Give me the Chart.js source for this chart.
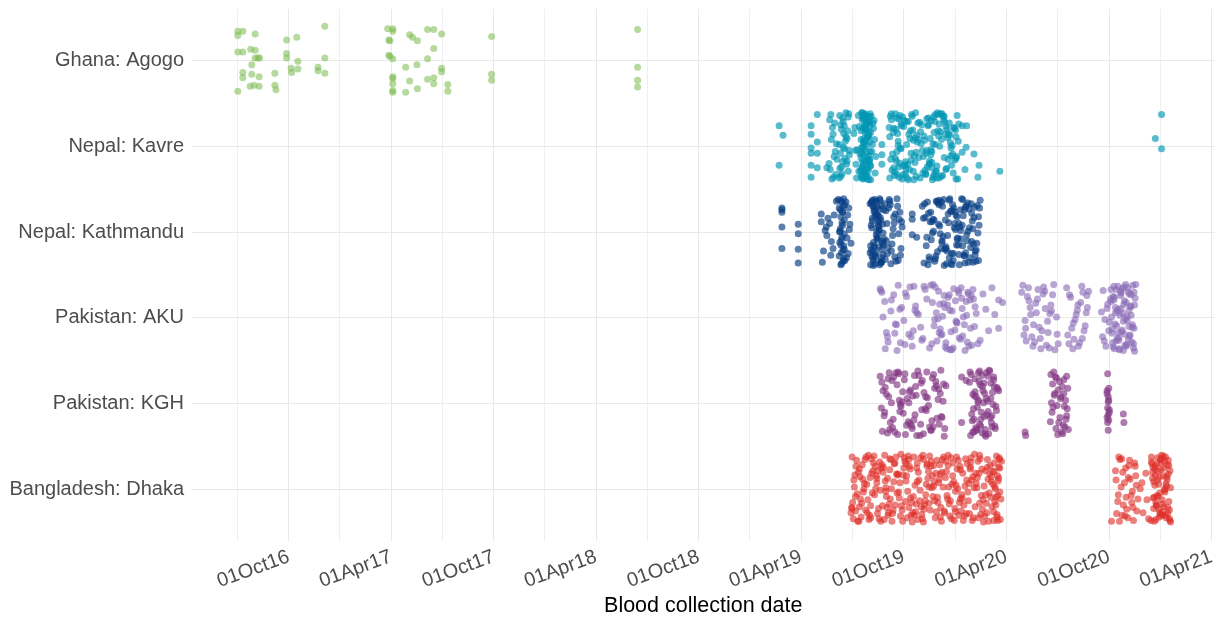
<!DOCTYPE html>
<html>
<head>
<meta charset="utf-8">
<script src="https://cdn.jsdelivr.net/npm/chart.js@4.4.1/dist/chart.umd.min.js"></script>
<style>
  html, body { margin: 0; padding: 0; background: #ffffff; }
  #wrap { width: 1218px; height: 618px; }
</style>
</head>
<body>
<div id="wrap"><canvas id="c" width="1218" height="618"></canvas></div>
<script>
// Sites, top to bottom
const siteNames = ['Ghana: Agogo', 'Nepal: Kavre', 'Nepal: Kathmandu', 'Pakistan: AKU', 'Pakistan: KGH', 'Bangladesh: Dhaka'];

// Date axis: days counted from 1 Oct 2016
const tickDays = [0, 182, 365, 547, 730, 912, 1095, 1278, 1461, 1643];
const tickLabels = ['01Oct16', '01Apr17', '01Oct17', '01Apr18', '01Oct18', '01Apr19', '01Oct19', '01Apr20', '01Oct20', '01Apr21'];

// Blood collection day of each sample and its vertical jitter (hundredths of a row)
const agogoDays = [-91,-91,-82,-60,-91,-82,-68,-60,-60,-55,-52,-66,-82,-82,-66,-53,-91,-69,-62,-53,-25,-25,-23,-4,14,-4,-4,16,4,5,16,52,52,64,64,64,
  176,185,185,178,180,178,180,185,185,185,185,185,185,208,215,220,229,228,215,208,229,247,258,272,258,247,272,272,247,258,258,283,283,361,361,361,621,621,621,621];
const agogoJitter = [-34,-29,-34,-31,-10,-10,-13,-12,-3,-3,-3,5,14,20,16,19,36,30,29,30,15,29,34,-24,-27,-8,-3,1,9,14,10,8,12,-40,-3,15,
  -37,-37,-34,-24,-23,-6,-5,-2,19,21,27,35,37,8,-30,-27,-23,5,24,37,33,-36,-36,-31,-14,-2,9,13,22,20,27,28,36,-28,16,23,-36,8,23,31];

const kavreDays = [873,880,873,930,930,930,930,930,930,941,941,941,941,958,1056,1056,1056,1070,1199,1207,1206,1199,1220,1229,1204,1227,1188,1266,1554,1543,1554,
  963,971,966,974,962,968,975,970,965,973,964,969,972,967,976,981,995,984,990,987,998,983,992,980,996,986,994,989,982,997,985,991,993,988,980,984,996,981,990,987,994,983,998,986,992,
  1008,1031,1024,1019,1035,1027,1012,1021,1033,1029,1040,1022,1026,1017,1030,1036,1023,1044,1028,1020,
  1034,1025,1015,1032,1019,1027,1038,1022,1030,1024,1006,1033,1021,1028,1035,1026,1042,1020,1031,1023,
  1029,1010,1025,1034,1019,1032,1027,1036,1021,1014,1030,1024,1039,1028,1022,1033,1026,1020,1035,1031,
  1023,1045,1029,1019,1027,1034,1016,1025,1032,1021,1037,1030,1024,1028,1011,1033,1022,1026,1035,1020,
  1031,1041,1025,1029,1019,1034,1023,1009,1027,1032,1036,1021,1030,1018,1024,1028,1043,1033,1026,1022,
  1071,1098,1085,1112,1077,1124,1090,1103,1080,1118,1094,1073,1108,1127,1086,1100,1082,1115,1092,1076,
  1121,1105,1088,1130,1079,1111,1096,1083,1117,1070,1102,1091,1126,1087,1109,1075,1099,1120,1084,1113,
  1093,1072,1106,1129,1081,1116,1097,1089,1123,1078,1104,1114,1086,1074,1101,1119,1095,1082,1110,1128,
  1077,1107,1090,1122,1098,1085,1115,1073,1103,1125,1088,1080,1112,1094,1069,1117,1100,1083,1108,1131,
  1133,1160,1147,1178,1139,1189,1154,1168,1142,1183,1151,1136,1172,1191,1157,1145,1165,1181,1149,1138,
  1186,1163,1135,1175,1153,1144,1170,1192,1158,1140,1179,1148,1167,1134,1187,1155,1143,1173,1162,1150,
  1137,1184,1159,1146,1176,1141,1169,1190,1152,1132,1166,1180,1156,1145,1188,1164,1139,1174,1151,1161,
  1182,1136,1171,1149,1158,1185,1143,1177,1153,1193,1167,1141,1162,1179,1147,1134,1170,1156,1188,1145];
const kavreJitter = [-24,-13,22,-24,-14,2,8,22,36,-37,-5,8,25,25,-2,10,21,37,-24,-24,1,7,9,22,27,36,38,29,-37,-9,3,
  -31,12,-8,33,20,-22,-3,36,-37,6,27,-14,-27,38,15,-36,-18,24,3,-29,10,35,-11,-2,29,-33,17,-24,8,-38,32,-6,21,-15,37,-20,-34,26,14,1,-9,-25,5,18,-39,
  -22,35,-9,14,-38,27,4,-31,19,-1,-27,38,-16,9,-35,23,-6,31,-25,2,
  17,-37,29,-12,36,-20,6,-33,25,-4,-15,11,-39,33,-24,18,-30,8,-11,37,
  -28,21,3,-34,-18,28,-7,39,-21,-36,13,32,-2,-26,24,-13,35,-39,6,-30,
  20,12,38,-8,-32,15,-23,30,-17,1,-35,26,-3,-19,37,-27,10,-38,22,34,
  -14,-21,-25,16,27,-5,-36,5,34,-29,-16,24,-10,29,-33,7,-8,39,-22,17,
  -35,18,-6,29,-21,37,3,-29,14,-13,33,-38,8,-25,24,-2,-33,19,38,-16,
  -8,27,-36,12,30,-19,-30,6,35,-11,21,-24,-3,36,-37,9,26,-27,-15,39,
  -34,15,-9,31,-20,-39,22,2,-28,34,-14,11,-32,28,37,-5,-23,17,-35,5,
  25,-18,-26,13,32,-1,-10,-31,39,-17,20,-38,-7,23,-22,7,-29,33,16,-12,
  28,-17,36,-4,-33,12,23,-28,-9,31,-37,5,-20,38,-12,19,-35,-1,33,-24,
  16,-38,8,-15,37,-30,27,-6,-26,21,2,-34,13,32,-19,-39,10,-10,35,-29,
  24,-22,0,39,-27,17,-14,-36,30,-7,-31,22,-18,6,-11,34,-25,15,-2,-38,
  9,-32,26,-16,37,-21,4,-13,29,-26,-35,20,-8,11,-3,33,-23,-37,14,25];

const kathmanduDays = [878,878,878,878,878,907,907,907,907,1110,1110,1110,1118,
  948,950,957,960,963,966,969,952,955,971,958,965,948,975,978,982,985,988,980,983,
  986,989,981,984,987,990,982,985,988,980,983,986,989,981,984,987,992,995,998,1001,
  993,997,999,994,996,982,985,988,990,984,987,983,986,989,981,
  1035,1041,1048,1056,1038,1044,1052,1060,1037,1043,1050,1058,1040,1046,1054,1039,1045,1051,1057,1036,
  1042,1049,1055,1038,1047,1053,1059,1041,1044,1050,1056,1037,1043,1048,1054,1039,1046,1052,1058,1040,
  1045,1051,1036,1042,1049,1055,1038,1044,1050,1057,1063,1067,1071,1075,1079,1065,1069,1073,1077,1081,
  1064,1068,1072,1076,1080,1066,1070,1074,1078,1062,1084,1087,1090,1092,1085,1088,1083,1086,1089,1091,
  1047,1053,1041,1059,1035,1061,1043,1051,1039,1057,1045,1049,1037,1055,1048,1042,1054,1046,1040,1052,
  1128,1135,1142,1150,1158,1165,1172,1180,1187,1194,1201,1208,1215,1222,1229,1131,1139,1146,1154,1161,
  1169,1176,1184,1191,1198,1205,1212,1219,1226,1133,1141,1148,1156,1163,1171,1178,1186,1193,1200,1207,
  1214,1221,1228,1130,1137,1144,1152,1159,1167,1174,1182,1189,1196,1203,1210,1217,1224,1231,1136,1143,
  1151,1157,1164,1170,1177,1183,1190,1197,1204,1211,1218,1225,1132,1140,1147,1153,1160,1168,1175,1181,
  1188,1195,1202,1209,1216,1223,1230,1145,1155,1166,1173,1179,1185,1192,1199,1206,1213,1220,1227,1162,
  1170,1183,1196,1209,1222,1149,1176,1190,1203,1216,1138,1158,1185,1200,1228,1163,1180,1205,1218,1193];
const kathmanduJitter = [-28,-26,-23,-6,19,-9,2,20,36,-21,-15,3,6,
  -21,35,-6,-16,-10,11,19,22,-2,-20,4,27,-12,-36,-38,-37,-35,31,-28,-18,
  -8,2,12,24,34,-32,-4,6,16,28,38,-24,-14,-1,9,21,-35,-20,-3,13,
  30,-28,-9,7,25,-26,-11,-39,33,37,-30,15,-23,20,0,
  -33,12,-20,30,-5,37,-27,8,21,-38,-12,26,-30,3,34,-16,-36,17,-9,38,
  -24,6,-31,28,-1,-37,15,33,-19,-8,20,-34,-26,9,36,-13,24,-39,1,31,
  -22,-2,16,-29,-14,35,-35,27,-7,13,-25,18,-32,4,29,-10,-38,22,-18,34,
  10,-28,37,-4,-21,25,-36,14,-11,32,-30,-15,19,-6,33,-23,-39,2,27,-12,
  7,-17,39,-26,24,-33,18,-3,-37,11,29,-20,-8,35,-29,16,-14,-35,23,38,
  -30,16,-12,34,-37,5,22,-25,-3,38,-19,10,-33,27,-8,36,-22,1,-36,19,
  -14,30,-28,7,-39,24,-5,14,-31,-17,32,-1,-34,12,37,-24,-10,26,-38,3,
  18,-29,33,-16,-35,9,28,-7,39,-21,-32,15,-2,-26,35,-13,21,-37,6,-23,
  31,-9,-30,17,-39,25,-18,8,36,-27,-4,13,-33,29,-15,-36,2,20,-11,38,
  -20,-6,27,-34,11,34,-28,-12,23,-38,4,37,-24,15,-8,-31,30,-17,1,-35,
  19,33,-26,-1,22,-14,-37,8,28,-22,38,-32,-5,16,-18,10,25,-29,35,-10];

const akuDays = [1053,1061,1066,1077,1082,1091,1097,1106,1112,1121,1127,1136,1056,1062,1072,1079,1085,1095,1100,1110,
  1116,1125,1133,1058,1067,1073,1083,1088,1098,1104,1113,1118,1129,1141,1146,1150,1157,1160,1167,1170,
  1177,1180,1187,1190,1197,1200,1207,1210,1216,1222,1143,1149,1154,1159,1164,1169,1174,1179,1184,1189,
  1194,1199,1204,1209,1214,1219,1224,1145,1151,1156,1161,1166,1172,1176,1181,1186,1192,1196,1201,1206,
  1211,1215,1221,1147,1158,1168,1178,1188,1198,1208,1218,1153,1163,1173,1183,1193,1203,1213,1231,1241,
  1252,1264,1264,1236,1227,1246,1257,1271,1054,1080,1108,1131,1089,1115,1064,
  1305,1312,1318,1325,1331,1338,1344,1351,1357,1364,1309,1315,1321,1328,1334,1341,1347,1354,1360,1367,
  1307,1313,1320,1326,1333,1339,1346,1352,1358,1370,1311,1317,1323,1330,1336,1343,1349,1355,1362,1368,
  1385,1390,1394,1398,1402,1406,1410,1414,1418,1422,1387,1392,1396,1400,1404,1408,1412,1416,1420,1424,1389,1397,1405,1413,1421,
  1447,1449,1452,1455,1458,1461,1464,1466,1468,1470,1472,1474,1476,1478,1480,1482,1484,1486,1488,1490,
  1492,1494,1496,1498,1500,1502,1504,1506,1508,1465,1467,1469,1471,1473,1475,1477,1479,1481,1483,1485,
  1487,1489,1491,1493,1495,1497,1499,1501,1503,1505,1507,1463,1468,1472,1477,1481,1486,1490,1495,1499,
  1504,1466,1470,1475,1479,1484,1488,1493,1497,1502,1506,1464,1473,1482,1491,1500,1469,1478,1487,1496,1505,1450,1457,1460,1453];
const akuJitter = [-34,-19,22,-27,8,-12,31,-36,15,-4,26,-22,-30,36,-8,18,-38,3,-25,33,
  -14,11,-33,-1,28,-21,38,-10,-29,19,-37,-6,24,35,-18,2,-31,13,-26,29,
  -9,37,-20,6,-35,21,-3,-28,32,-13,-38,9,27,-16,-2,34,-24,16,-34,5,
  23,-11,38,-30,12,-22,-5,30,-36,1,20,-17,36,-27,-8,14,-32,25,-1,-19,
  33,-26,10,-39,17,-12,37,4,-23,28,-33,-6,19,-15,35,-29,8,-21,26,-10,
  -35,-21,12,-28,30,15,-4,-18,-32,7,22,-37,29,-9,17,
  -30,12,-20,33,-6,24,-36,4,-15,37,20,-25,-4,28,-33,15,-11,35,-27,-1,
  -38,27,-12,8,-22,36,-31,17,-8,30,3,-35,22,-17,11,-28,32,-5,-39,19,
  -35,-27,12,25,-4,33,-18,-30,9,-12,20,-24,36,2,-9,29,-37,15,-6,-31,30,6,-15,24,-26,
  -7,22,27,33,-16,5,-33,18,-25,36,-12,9,-37,26,-3,-29,14,38,-20,1,
  31,-35,-9,20,-27,11,35,-15,-39,-1,29,-21,7,-33,24,-10,37,-26,16,-5,
  -36,32,-18,3,-30,21,-13,28,-38,12,-23,-22,34,-6,17,-31,4,-39,25,-14,
  30,13,-24,-8,36,-34,19,-2,-28,8,39,-19,27,-11,33,-3,-37,23,-16,10,-30,-32,-11,15,2];

const kghDays = [1053,1060,1068,1075,1083,1090,1098,1105,1113,1120,1128,1135,1143,1150,1158,1165,1056,1064,1071,1079,
  1086,1094,1101,1109,1116,1124,1131,1139,1146,1154,1161,1168,1058,1066,1073,1081,1088,1096,1103,1111,
  1118,1126,1133,1141,1148,1156,1163,1170,1055,1062,1070,1077,1085,1092,1100,1107,1115,1122,1130,1137,
  1145,1152,1160,1167,1057,1067,1076,1087,1097,1106,1117,1127,1136,1147,1157,1166,1061,1074,1084,1093,
  1104,1114,1125,1134,1144,1153,1162,1069,1089,1110,
  1198,1198,1212,1216,1220,1224,1228,1232,1236,1240,1244,1248,1252,1256,1260,1214,1218,1222,1226,1230,
  1234,1238,1242,1246,1250,1254,1258,1262,1213,1217,1221,1225,1229,1233,1237,1241,1245,1249,1253,1257,
  1261,1215,1219,1223,1227,1231,1235,1239,1243,1247,1251,1255,1259,1264,1206,1220,1230,1240,1250,1225,
  1235,1245,1255,1222,1232,1242,1252,1218,1228,1238,
  1311,1312,
  1357,1362,1367,1372,1377,1380,1383,1386,1360,1365,1370,1375,1381,1385,1358,1363,1368,1374,1379,1384,1388,
  1359,1366,1371,1376,1382,1364,1369,1378,1387,1361,1373,1380,1356,1385,
  1458,1457,1459,1460,1458,1461,1459,1457,1460,1458,1459,1461,1457,1460,1459,1486,1487];
const kghJitter = [-32,14,-8,28,-22,3,36,-14,19,-38,-27,8,31,-18,24,-3,-25,-11,22,33,
  -35,11,-6,26,-20,37,-13,2,-30,17,-39,29,-15,34,-1,-36,9,-28,21,-9,
  37,-24,6,27,-34,-5,16,-21,5,-19,30,-31,-37,-2,25,-16,13,-33,35,-7,
  20,-26,-12,38,32,-29,18,-4,-35,23,-10,7,-37,27,-17,-23,10,-27,36,-14,
  -1,-33,24,-8,31,-21,15,-36,1,29,
  -31,22,-25,12,33,-8,-36,18,-15,30,-3,-38,27,-20,8,37,-11,-29,4,24,
  -33,15,-6,35,-24,1,29,-17,-37,20,-9,31,-26,10,-1,38,-32,16,-13,26,
  -19,-34,6,28,-2,-22,34,-12,13,-39,22,-28,3,-15,-27,18,-38,36,-6,30,
  -20,9,-31,-14,26,-36,14,33,-4,-24,
  33,37,
  -34,-37,-30,-26,-20,-12,-4,6,-23,-31,-16,-8,3,14,-1,-10,2,-6,25,18,30,
  10,29,22,33,27,-12,36,35,-18,4,16,-28,21,-32,
  -35,-12,-8,-4,5,7,13,16,19,22,-2,10,-15,-18,31,12,22];

const dhakaDays = [1003,1031,1058,1089,1115,1142,1170,1198,1226,1255,1016,1044,1073,1101,1129,1156,1184,1212,1240,1266,
  1009,1037,1064,1094,1120,1148,1176,1204,1232,1260,1022,1050,1079,1107,1135,1162,1190,1218,1247,1269,
  1006,1034,1061,1091,1118,1145,1173,1201,1229,1257,1019,1047,1076,1104,1132,1159,1187,1215,1243,1262,
  1012,1040,1068,1097,1123,1151,1179,1207,1235,1264,1026,1053,1082,1110,1138,1165,1193,1221,1250,1002,
  1005,1029,1056,1086,1113,1140,1168,1196,1224,1252,1014,1042,1071,1099,1127,1154,1182,1210,1238,1267,
  1010,1036,1066,1093,1121,1149,1175,1203,1231,1259,1024,1048,1078,1106,1134,1161,1189,1217,1245,1254,
  1004,1032,1060,1088,1116,1144,1172,1200,1228,1256,1018,1046,1074,1102,1130,1158,1186,1214,1242,1265,
  1008,1039,1063,1092,1119,1147,1174,1202,1230,1261,1021,1051,1077,1105,1133,1160,1188,1216,1244,1268,
  1013,1035,1069,1096,1124,1152,1180,1208,1236,1263,1027,1055,1083,1111,1139,1166,1194,1222,1249,1258,
  1007,1030,1059,1087,1114,1141,1169,1197,1225,1253,1015,1043,1072,1100,1128,1155,1183,1211,1239,1266,
  1011,1038,1065,1095,1122,1150,1177,1205,1233,1262,1025,1052,1080,1108,1136,1163,1191,1219,1248,1255,
  1003,1033,1062,1090,1117,1146,1171,1199,1227,1257,1020,1049,1075,1103,1131,1157,1185,1213,1241,1264,
  1016,1041,1067,1098,1125,1153,1181,1209,1237,1251,1028,1057,1084,1112,1140,1167,1195,1223,1246,1261,
  1009,1045,1070,1085,1126,1143,1178,1192,1234,1259,1001,1054,1081,1109,1137,1164,1196,1220,1251,1256,
  1017,1036,1063,1099,1119,1148,1174,1206,1230,1265,1023,1047,1070,1104,1130,1160,1187,1214,1244,1262,
  1472,1476,1480,1484,1488,1492,1496,1500,1504,1508,1512,1474,1478,1482,1486,1490,1494,1498,1502,1506,
  1510,1473,1479,1485,1491,1497,1503,1509,1477,1483,1489,1495,1501,1507,1516,1521,1526,1531,1519,1528,
  1536,1538,1540,1542,1544,1546,1548,1550,1552,1554,1556,1558,1560,1562,1564,1566,1568,1570,1537,1539,
  1541,1543,1545,1547,1549,1551,1553,1555,1557,1559,1561,1563,1565,1567,1569,1536,1540,1544,1548,1552,
  1556,1560,1564,1568,1538,1542,1546,1550,1554,1558,1562,1566,1570,1543,1551,1559,1567,1547,1555,1563,
  1539,1549,1561,1545,1557,1565,1553,1541,1569,1535,
  1465];
const dhakaJitter = [-38,12,-20,31,-5,24,-33,6,-14,36,20,-27,-1,33,-40,15,-9,28,-22,3,
  25,-36,8,-17,35,-28,17,-4,29,-39,-12,22,-31,10,-6,37,-24,-15,4,-33,
  -11,30,-40,19,-25,-2,11,36,-19,14,32,-8,24,-35,18,-29,2,-37,27,-16,
  5,-22,27,-33,13,33,-37,-11,23,-26,-35,1,-18,38,-13,-3,30,-41,9,21,
  34,-6,-29,3,-38,16,27,-23,-7,20,-20,-39,11,-10,29,-34,-16,13,-4,35,
  -27,19,-13,37,-20,-9,-3,31,-36,9,-1,28,-30,-24,6,21,-38,36,-12,-6,
  15,-40,35,-8,26,-33,7,-19,33,-31,11,-16,37,2,-35,-12,22,-26,16,-37,
  -17,4,-2,24,-31,8,-28,18,-40,29,-29,34,-9,-27,13,32,-5,-11,-35,11,
  37,-14,17,-37,1,-19,34,-30,12,-10,24,-25,4,27,-21,-38,15,20,-28,-1,
  -3,27,-26,10,30,-39,-14,25,-2,-21,37,6,-35,-16,34,9,-31,-7,31,-25,
  -34,-19,21,-25,-11,13,31,-36,7,36,-7,-32,18,30,-28,-20,-1,33,-18,26,
  22,35,-10,-41,17,-16,-21,10,-33,-3,16,-22,28,-39,23,-8,36,-24,6,-13,
  -24,-31,30,14,-37,26,-6,3,38,-15,-38,19,-17,8,-3,25,-27,-19,37,32,
  8,-1,-36,-18,20,-27,13,-34,-24,18,27,37,-38,15,-30,-35,11,-2,-9,-21,
  -15,33,2,-30,-9,-4,-40,28,16,-35,3,-13,-23,21,38,-18,26,-32,-26,7,
  -22,14,-35,30,-8,23,-28,7,36,-16,11,28,-38,-3,18,-25,33,-12,2,-31,
  25,-11,37,-20,9,-34,21,-5,6,-36,31,-14,15,-27,-1,27,-19,34,-8,12,
  -38,-20,22,-5,35,-30,8,-14,29,-40,17,-25,3,33,-12,-34,24,-2,-30,10,
  37,-17,19,-37,-6,27,-23,12,-39,1,30,-15,21,-28,36,-32,-9,15,-21,-35,
  26,-1,-29,34,-13,-24,7,32,-36,20,-7,-18,38,-27,4,-33,14,-11,30,-4,
  -26,23,-38,18,-16,28,-31,9,-22,36,
  37];

const siteColors = [
  'rgba(122,186,78,0.55)',
  'rgba(0,150,180,0.65)',
  'rgba(8,62,132,0.66)',
  'rgba(138,108,182,0.62)',
  'rgba(130,55,130,0.66)',
  'rgba(222,45,38,0.6)'
];

const siteSamples = [
  [agogoDays, agogoJitter],
  [kavreDays, kavreJitter],
  [kathmanduDays, kathmanduJitter],
  [akuDays, akuJitter],
  [kghDays, kghJitter],
  [dhakaDays, dhakaJitter]
];

const datasets = siteSamples.map(([days, jit], row) => {
  const n = Math.min(days.length, jit.length);
  const pts = [];
  for (let i = 0; i < n; i++) pts.push({ x: days[i], y: row + jit[i] / 100 });
  return {
    label: siteNames[row],
    data: pts,
    backgroundColor: siteColors[row],
    borderWidth: 0,
    pointRadius: 3.5,
    pointHoverRadius: 3.5
  };
});

// Major breaks carry labels; minor breaks sit halfway between them
const gridDays = [tickDays[0] - (tickDays[1] - tickDays[0]) / 2];
tickDays.forEach((d, i) => {
  gridDays.push(d);
  if (i < tickDays.length - 1) gridDays.push((d + tickDays[i + 1]) / 2);
});

const FONT = "'Liberation Sans', Arial, Helvetica, sans-serif";

new Chart(document.getElementById('c'), {
  type: 'scatter',
  data: { datasets },
  options: {
    responsive: false,
    animation: false,
    events: [],
    layout: { padding: { top: 9, right: 2, bottom: 0, left: 0 } },
    plugins: { legend: { display: false }, tooltip: { enabled: false } },
    scales: {
      x: {
        type: 'linear',
        min: -172.5,
        max: 1648.3,
        afterBuildTicks: s => { s.ticks = gridDays.map(v => ({ value: v })); },
        afterFit: s => { s.height = 77; s.paddingLeft = 0; s.paddingRight = 0; },
        ticks: {
          autoSkip: false,
          minRotation: 20,
          maxRotation: 20,
          padding: 4,
          color: '#4d4d4d',
          font: { family: FONT, size: 20 },
          callback: v => {
            const i = tickDays.indexOf(v);
            return i >= 0 ? tickLabels[i] : '';
          }
        },
        grid: {
          drawTicks: false,
          lineWidth: 1,
          color: c => (c.tick && tickDays.indexOf(c.tick.value) >= 0) ? '#e8e8e8' : '#efefef'
        },
        border: { display: false },
        title: {
          display: true,
          text: 'Blood collection date',
          color: '#000000',
          font: { family: FONT, size: 21.5 },
          padding: { top: 0, bottom: -1 }
        }
      },
      y: {
        type: 'linear',
        reverse: true,
        min: -0.6,
        max: 5.6,
        afterBuildTicks: s => { s.ticks = siteNames.map((_, i) => ({ value: i })); },
        afterFit: s => { s.width = 192; s.paddingTop = 0; s.paddingBottom = 0; },
        ticks: {
          padding: 8,
          color: '#4d4d4d',
          font: { family: FONT, size: 20 },
          callback: v => siteNames[v] ?? ''
        },
        grid: { drawTicks: false, lineWidth: 1, color: '#e8e8e8' },
        border: { display: false }
      }
    }
  }
});
</script>
</body>
</html>
